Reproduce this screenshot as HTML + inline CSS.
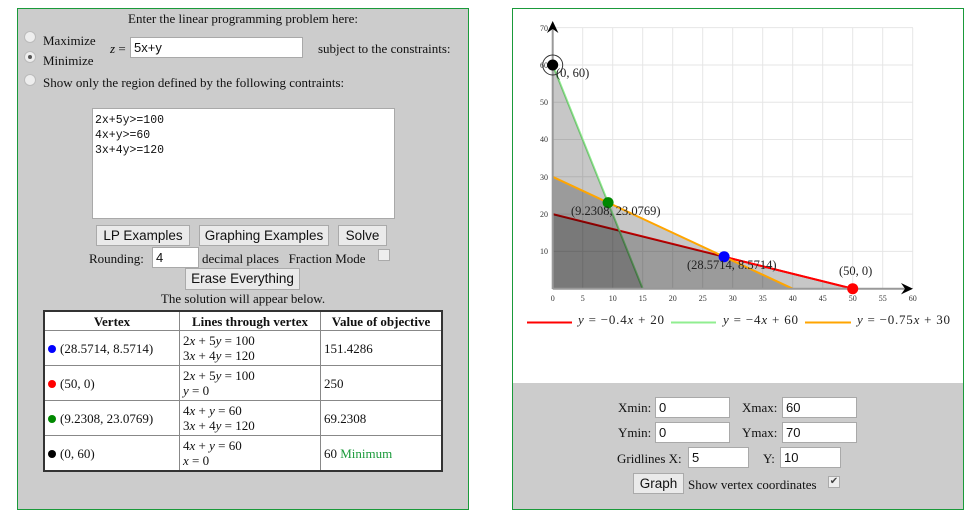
<!DOCTYPE html>
<html><head><meta charset="utf-8"><style>
body{margin:0;width:976px;height:519px;background:#fff;position:relative;font-family:"Liberation Serif",serif;font-size:13px;color:#111;overflow:hidden}
.a{position:absolute;white-space:nowrap}
.panel{position:absolute;border:1px solid #1a9a3a;background:#ccc;box-sizing:border-box}
.inp{position:absolute;background:#fff;border:1px solid #a9a9a9;box-sizing:border-box;font-family:"Liberation Sans",sans-serif;font-size:13px;padding:1px 3px;line-height:17px}
.btn{position:absolute;background:#eaeaea;border:1px solid #aaa;box-sizing:border-box;font-family:"Liberation Sans",sans-serif;font-size:13.5px;text-align:center;line-height:19px}
.rad{position:absolute;width:12px;height:12px;border-radius:50%;background:#eee;border:1px solid #bbb;box-sizing:border-box}
.chk{position:absolute;width:12px;height:12px;background:#eee;border:1px solid #aaa;box-sizing:border-box;font-size:10px;line-height:10px;text-align:center}
table{position:absolute;left:43px;top:310px;width:400px;border-collapse:collapse;background:#fff;font-size:13px}
td,th{border:1px solid #888;padding:0 3px;height:34px;line-height:15px;text-align:left}
th{height:18px;text-align:center}
table{border:2px solid #333}
.d{display:inline-block;width:8px;height:8px;border-radius:50%;margin-right:4px}
i{font-style:italic}
</style></head><body>
<div class="panel" style="left:17px;top:8px;width:452px;height:502px"></div>
<div class="a" style="left:17px;width:452px;top:11px;text-align:center">Enter the linear programming problem here:</div>
<div class="rad" style="left:24px;top:31px"></div><div class="a" style="left:43px;top:33px">Maximize</div>
<div class="rad" style="left:24px;top:51px"><div style="width:4px;height:4px;border-radius:50%;background:#555;margin:3px"></div></div><div class="a" style="left:43px;top:53px">Minimize</div>
<div class="a" style="left:110px;top:41px"><i>z</i> =</div>
<div class="inp" style="left:130px;top:37px;width:173px;height:21px">5x+y</div>
<div class="a" style="left:318px;top:41px">subject to the constraints:</div>
<div class="rad" style="left:24px;top:74px"></div><div class="a" style="left:43px;top:75px">Show only the region defined by the following contraints:</div>
<div class="inp" style="left:92px;top:108px;width:303px;height:111px;font-family:'Liberation Mono',monospace;font-size:11.5px;line-height:15px;padding:4px 2px">2x+5y&gt;=100<br>4x+y&gt;=60<br>3x+4y&gt;=120</div>
<div class="btn" style="left:96px;top:225px;width:94px;height:21px">LP Examples</div>
<div class="btn" style="left:199px;top:225px;width:130px;height:21px">Graphing Examples</div>
<div class="btn" style="left:338px;top:225px;width:49px;height:21px">Solve</div>
<div class="a" style="left:89px;top:251px">Rounding:</div>
<div class="inp" style="left:152px;top:247px;width:47px;height:21px">4</div>
<div class="a" style="left:202px;top:251px">decimal places&nbsp;&nbsp; Fraction Mode</div>
<div class="chk" style="left:378px;top:249px"></div>
<div class="btn" style="left:185px;top:268px;width:115px;height:22px">Erase Everything</div>
<div class="a" style="left:17px;width:452px;top:291px;text-align:center">The solution will appear below.</div>
<table>
<tr><th style="width:128px">Vertex</th><th style="width:134px">Lines through vertex</th><th>Value of objective</th></tr>
<tr><td><span class="d" style="background:#00f"></span>(28.5714, 8.5714)</td><td>2<i>x</i> + 5<i>y</i> = 100<br>3<i>x</i> + 4<i>y</i> = 120</td><td>151.4286</td></tr>
<tr><td><span class="d" style="background:#f00"></span>(50, 0)</td><td>2<i>x</i> + 5<i>y</i> = 100<br><i>y</i> = 0</td><td>250</td></tr>
<tr><td><span class="d" style="background:#080"></span>(9.2308, 23.0769)</td><td>4<i>x</i> + <i>y</i> = 60<br>3<i>x</i> + 4<i>y</i> = 120</td><td>69.2308</td></tr>
<tr><td><span class="d" style="background:#000"></span>(0, 60)</td><td>4<i>x</i> + <i>y</i> = 60<br><i>x</i> = 0</td><td>60 <span style="color:#1a9a3a">Minimum</span></td></tr>
</table>

<div class="panel" style="left:512px;top:8px;width:452px;height:502px;background:#fff"></div>
<div style="position:absolute;left:513px;top:383px;width:450px;height:126px;background:#ccc"></div>
<svg class="a" style="left:0;top:0" width="976" height="519" font-family="Liberation Serif,serif">
<g stroke="#e6e6e6" stroke-width="1">
<line x1="582.7" y1="28" x2="582.7" y2="289"/><line x1="612.7" y1="28" x2="612.7" y2="289"/><line x1="642.7" y1="28" x2="642.7" y2="289"/><line x1="672.7" y1="28" x2="672.7" y2="289"/><line x1="702.7" y1="28" x2="702.7" y2="289"/><line x1="732.7" y1="28" x2="732.7" y2="289"/><line x1="762.7" y1="28" x2="762.7" y2="289"/><line x1="792.7" y1="28" x2="792.7" y2="289"/><line x1="822.7" y1="28" x2="822.7" y2="289"/><line x1="852.7" y1="28" x2="852.7" y2="289"/><line x1="882.7" y1="28" x2="882.7" y2="289"/><line x1="912.7" y1="28" x2="912.7" y2="289"/>
<line x1="552" y1="27.6" x2="913" y2="27.6"/><line x1="552" y1="65" x2="913" y2="65"/><line x1="552" y1="102.2" x2="913" y2="102.2"/><line x1="552" y1="139.5" x2="913" y2="139.5"/><line x1="552" y1="176.8" x2="913" y2="176.8"/><line x1="552" y1="214.1" x2="913" y2="214.1"/><line x1="552" y1="251.4" x2="913" y2="251.4"/>
</g>
<line x1="552.7" y1="214.1" x2="852.7" y2="288.7" stroke="#f00" stroke-width="2"/>
<line x1="552.7" y1="65" x2="642.7" y2="288.7" stroke="#90ee90" stroke-width="2"/>
<g fill="rgba(0,0,0,0.22)">
<polygon points="552.7,214.1 852.7,288.7 552.7,288.7"/>
<polygon points="552.7,65 642.7,288.7 552.7,288.7"/>
<polygon points="552.7,176.8 792.7,288.7 552.7,288.7"/>
</g>
<line x1="724" y1="256.7" x2="852.7" y2="288.7" stroke="#f00" stroke-width="2"/>
<line x1="552.7" y1="176.8" x2="792.7" y2="288.7" stroke="#ffa500" stroke-width="2"/>
<line x1="552.7" y1="289" x2="552.7" y2="24" stroke="#999" stroke-width="2"/>
<line x1="552.7" y1="288.7" x2="910" y2="288.7" stroke="#999" stroke-width="2"/>
<polygon points="552.7,21 547,33 552.7,29 558.4,33" fill="#000"/>
<polygon points="913,288.7 901,283 905,288.7 901,294.4" fill="#000"/>
<g font-size="8" fill="#333" text-anchor="middle">
<text x="552.7" y="301">0</text><text x="582.7" y="301">5</text><text x="612.7" y="301">10</text><text x="642.7" y="301">15</text><text x="672.7" y="301">20</text><text x="702.7" y="301">25</text><text x="732.7" y="301">30</text><text x="762.7" y="301">35</text><text x="792.7" y="301">40</text><text x="822.7" y="301">45</text><text x="852.7" y="301">50</text><text x="882.7" y="301">55</text><text x="912.7" y="301">60</text>
</g>
<g font-size="8" fill="#333" text-anchor="end">
<text x="548" y="31">70</text><text x="548" y="68">60</text><text x="548" y="105">50</text><text x="548" y="142">40</text><text x="548" y="180">30</text><text x="548" y="217">20</text><text x="548" y="254">10</text>
</g>
<circle cx="552.7" cy="65" r="10" fill="none" stroke="#333" stroke-width="1"/>
<circle cx="552.7" cy="65" r="5.5" fill="#000"/>
<circle cx="608.1" cy="202.6" r="5.5" fill="#080"/>
<circle cx="724.1" cy="256.7" r="5.5" fill="#00f"/>
<circle cx="852.7" cy="288.7" r="5.5" fill="#f00"/>
<g font-size="12.5" fill="#222">
<text x="556" y="77">(0, 60)</text><text x="571" y="215">(9.2308, 23.0769)</text><text x="687" y="269">(28.5714, 8.5714)</text><text x="839" y="275">(50, 0)</text>
</g>
<line x1="527" y1="322.5" x2="572" y2="322.5" stroke="#f00" stroke-width="2"/>
<line x1="671" y1="322.5" x2="716" y2="322.5" stroke="#90ee90" stroke-width="2"/>
<line x1="805" y1="322.5" x2="851" y2="322.5" stroke="#ffa500" stroke-width="2"/>
<g font-size="13" fill="#222" xml:space="preserve">
<text x="578" y="324" textLength="86"><tspan font-style="italic">y</tspan>  =  −0.4<tspan font-style="italic">x</tspan> + 20</text>
<text x="723" y="324" textLength="75"><tspan font-style="italic">y</tspan>  =  −4<tspan font-style="italic">x</tspan> + 60</text>
<text x="857" y="324" textLength="93"><tspan font-style="italic">y</tspan>  =  −0.75<tspan font-style="italic">x</tspan> + 30</text>
</g>
</svg>
<div class="a" style="left:618px;top:400px">Xmin:</div><div class="inp" style="left:655px;top:397px;width:75px;height:21px">0</div>
<div class="a" style="left:742px;top:400px">Xmax:</div><div class="inp" style="left:782px;top:397px;width:75px;height:21px">60</div>
<div class="a" style="left:618px;top:425px">Ymin:</div><div class="inp" style="left:655px;top:422px;width:75px;height:21px">0</div>
<div class="a" style="left:742px;top:425px">Ymax:</div><div class="inp" style="left:782px;top:422px;width:75px;height:21px">70</div>
<div class="a" style="left:617px;top:451px">Gridlines X:</div><div class="inp" style="left:688px;top:447px;width:61px;height:21px">5</div>
<div class="a" style="left:763px;top:451px">Y:</div><div class="inp" style="left:780px;top:447px;width:61px;height:21px">10</div>
<div class="btn" style="left:633px;top:473px;width:51px;height:21px">Graph</div>
<div class="a" style="left:688px;top:477px">Show vertex coordinates</div>
<div class="chk" style="left:828px;top:476px;color:#444">✔</div>
</body></html>
